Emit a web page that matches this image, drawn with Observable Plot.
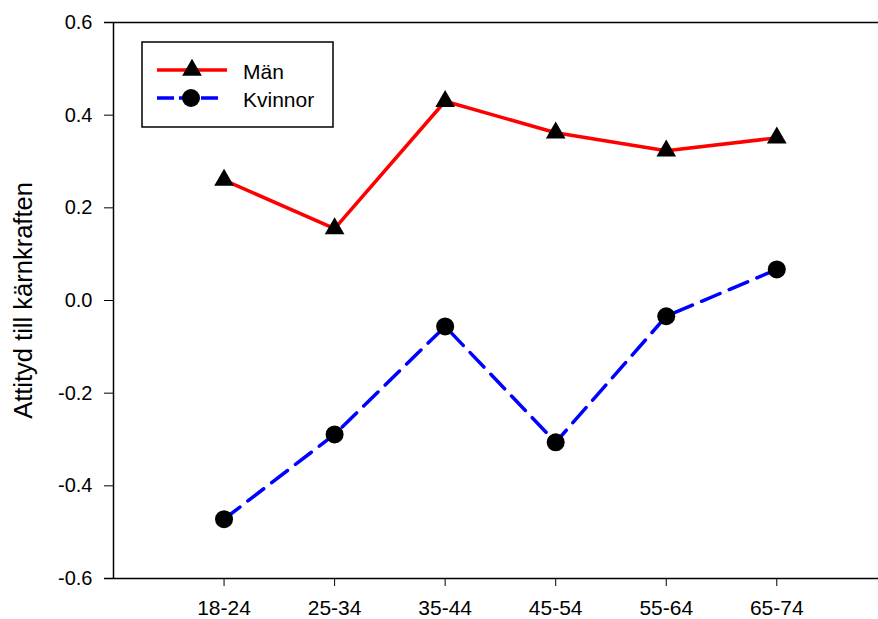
<!DOCTYPE html>
<html>
<head>
<meta charset="utf-8">
<script src="https://cdn.jsdelivr.net/npm/d3@7"></script>
<script src="https://cdn.jsdelivr.net/npm/@observablehq/plot@0.6"></script>
<style>
  html, body { margin: 0; padding: 0; background: #fff; overflow: hidden; }
  #chart { width: 878px; height: 619px; }
</style>
</head>
<body>
<div id="chart"></div>
<script>
const categories = ["18-24", "25-34", "35-44", "45-54", "55-64", "65-74"];
const manValues = [0.26, 0.155, 0.43, 0.362, 0.323, 0.351];
const kvinnorValues = [-0.472, -0.289, -0.056, -0.306, -0.034, 0.067];
const yTicks = [-0.6, -0.4, -0.2, 0.0, 0.2, 0.4, 0.6];
const seriesNames = ["Män", "Kvinnor"];
const yLabel = "Attityd till kärnkraften";

const men = categories.map((c, i) => ({i: i + 1, cat: c, v: manValues[i]}));
const women = categories.map((c, i) => ({i: i + 1, cat: c, v: kvinnorValues[i]}));

const svg = Plot.plot({
  width: 878,
  height: 619,
  marginLeft: 113,
  marginRight: 0,
  marginTop: 22,
  marginBottom: 41,
  style: {fontFamily: "'Liberation Sans', Arial, sans-serif", fontSize: "20px", color: "#000", background: "#fff"},
  x: {
    domain: [0, 6.92],
    ticks: categories.map((c, i) => i + 1),
    tickFormat: d => categories[d - 1],
    tickSize: 8,
    tickPadding: 14,
    label: null
  },
  y: {
    domain: [-0.6, 0.6],
    ticks: yTicks,
    tickFormat: d => d.toFixed(1),
    tickSize: 9,
    tickPadding: 12,
    label: null
  },
  marks: [
    Plot.ruleY([0.6], {stroke: "#000", strokeWidth: 1.5, insetLeft: -9}),
    Plot.ruleY([-0.6], {stroke: "#000", strokeWidth: 1.5, insetLeft: -9}),
    Plot.ruleX([0], {stroke: "#000", strokeWidth: 1.5}),
    Plot.line(men, {x: "i", y: "v", stroke: "#ff0000", strokeWidth: 3.5}),
    Plot.line(women, {x: "i", y: "v", stroke: "#0000ff", strokeWidth: 3.5, strokeDasharray: "20,10"}),
    Plot.dot(men, {x: "i", y: "v", symbol: "triangle", r: 7.3, fill: "#000", stroke: "none"}),
    Plot.dot(women, {x: "i", y: "v", symbol: "circle", r: 9, fill: "#000", stroke: "none"}),
    Plot.text([yLabel], {text: d => d, frameAnchor: "left", textAnchor: "middle", rotate: -90, dx: -90, fontSize: 25.5, lineAnchor: "middle", fill: "#000"})
  ]
});

// enlarge x tick labels slightly
d3.select(svg).selectAll("text")
  .filter(function() { return categories.includes(this.textContent); })
  .style("font-size", "21px");

// Legend box inside the plot area
const g = d3.select(svg).append("g").attr("class", "legend").attr("text-anchor", "start");
g.append("rect").attr("x", 142).attr("y", 42).attr("width", 191).attr("height", 85)
  .attr("fill", "#fff").attr("stroke", "#000").attr("stroke-width", 1.5);
g.append("line").attr("x1", 157).attr("x2", 227).attr("y1", 70).attr("y2", 70)
  .attr("stroke", "#ff0000").attr("stroke-width", 3.5);
g.append("path").attr("d", d3.symbol(d3.symbolTriangle, Math.PI * 7.3 * 7.3)())
  .attr("transform", "translate(192,70)").attr("fill", "#000");
g.append("line").attr("x1", 157).attr("x2", 219).attr("y1", 98).attr("y2", 98)
  .attr("stroke", "#0000ff").attr("stroke-width", 3.5).attr("stroke-dasharray", "17,5");
g.append("circle").attr("cx", 191).attr("cy", 98).attr("r", 9).attr("fill", "#000");
g.append("text").attr("x", 243).attr("y", 79).attr("font-size", 21).attr("fill", "#000").text(seriesNames[0]);
g.append("text").attr("x", 243).attr("y", 107).attr("font-size", 21).attr("fill", "#000").text(seriesNames[1]);

document.getElementById("chart").appendChild(svg);
</script>
</body>
</html>
